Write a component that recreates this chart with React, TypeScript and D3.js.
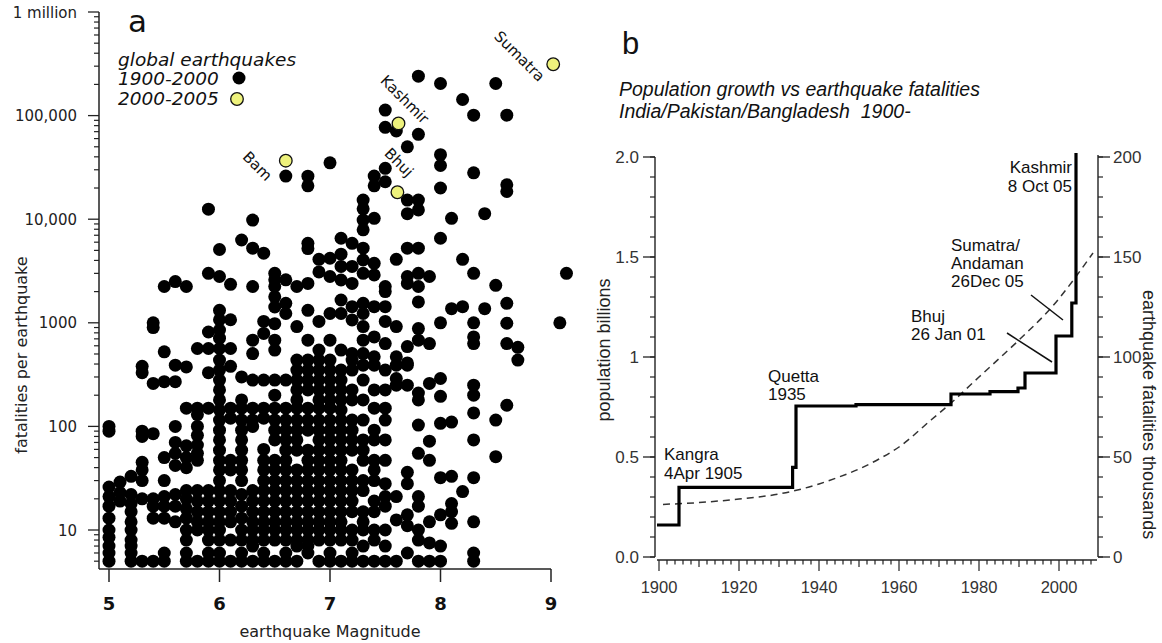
import React from 'react';
import * as d3 from 'd3';

// ---- panel a: global earthquakes, fatalities vs magnitude ----
// one column per magnitude: [magnitude, fatalities of each quake]
const quakeColumns: [number, number[]][] = [
  [5.0, [100, 90, 26, 21, 17, 13, 10, 8.5, 7, 6, 5]],
  [5.1, [29, 23, 19]],
  [5.2, [33, 22, 18, 15, 12, 10, 8, 7, 6, 5]],
  [5.3, [380, 330, 90, 80, 45, 38, 30, 20, 5]],
  [5.4, [1000, 900, 260, 85, 20, 17, 13, 5]],
  [5.5, [2240, 525, 270, 50, 30, 21, 17, 13, 6, 5]],
  [5.6, [2500, 390, 270, 100, 70, 55, 42, 22, 17, 12]],
  [5.7, [2240, 375, 150, 65, 50, 40, 24, 20, 16, 13, 10, 8, 6, 5]],
  [5.8, [565, 150, 130, 100, 82, 66, 55, 47, 24, 19, 15, 12, 10, 5]],
  [5.9, [12500, 3000, 815, 565, 330, 150, 24, 19, 15, 12, 10, 8, 6, 5]],
  [6.0, [5100, 2800, 1320, 1070, 850, 710, 565, 437, 350, 280, 225, 180, 144, 115, 92, 74, 59, 47, 38, 30, 24, 19, 15, 12, 10, 8, 6, 5]],
  [6.1, [2350, 1070, 565, 380, 150, 120, 47, 38, 24, 19, 15, 12, 8, 5]],
  [6.2, [6300, 300, 180, 150, 115, 92, 74, 59, 47, 38, 30, 22, 17, 13, 10, 8, 6, 5]],
  [6.3, [9800, 5250, 2240, 680, 505, 280, 150, 115, 100, 24, 19, 15, 12, 10, 8, 7, 5]],
  [6.4, [4700, 1030, 790, 280, 150, 120, 60, 47, 38, 30, 24, 19, 15, 12, 10, 8, 6, 5]],
  [6.5, [3000, 2600, 2240, 1780, 1420, 980, 680, 545, 280, 200, 150, 115, 92, 74, 47, 38, 30, 24, 19, 15, 12, 10, 8, 5]],
  [6.6, [26100, 2600, 1540, 1230, 280, 150, 115, 92, 74, 59, 47, 38, 30, 24, 19, 15, 12, 10, 8, 6, 5]],
  [6.7, [2240, 920, 437, 350, 280, 225, 180, 150, 115, 92, 74, 59, 38, 30, 24, 19, 15, 12, 10, 8, 7, 5]],
  [6.8, [26000, 21000, 5850, 5200, 2400, 1320, 680, 437, 350, 280, 225, 150, 115, 92, 59, 47, 38, 30, 24, 19, 15, 12, 10, 8, 7, 6]],
  [6.9, [4100, 3100, 1030, 545, 437, 350, 280, 225, 180, 150, 115, 92, 74, 59, 47, 38, 30, 24, 19, 15, 12, 10, 8, 5]],
  [7.0, [35000, 4200, 2800, 1230, 680, 437, 350, 280, 225, 180, 150, 115, 92, 74, 59, 47, 38, 30, 24, 19, 15, 12, 10, 8, 6, 5]],
  [7.1, [6550, 4600, 3500, 2590, 1660, 1230, 545, 350, 280, 225, 180, 144, 115, 92, 74, 59, 47, 38, 30, 24, 19, 15, 12, 10, 8, 5]],
  [7.2, [5850, 3500, 2400, 1430, 1065, 505, 437, 350, 225, 180, 115, 92, 74, 59, 38, 30, 24, 19, 15, 10, 8, 6, 5]],
  [7.3, [15300, 12600, 9800, 7900, 5250, 4040, 3000, 1540, 1230, 920, 680, 505, 390, 280, 180, 115, 74, 59, 47, 30, 24, 15, 12, 10, 7, 5]],
  [7.4, [26100, 21000, 10200, 3750, 2900, 1430, 730, 470, 390, 225, 150, 92, 74, 47, 38, 30, 19, 15, 10, 8, 5]],
  [7.5, [113000, 77000, 31000, 23000, 2240, 2000, 1430, 1030, 630, 350, 225, 150, 115, 74, 47, 28, 21, 17, 10, 7, 5]],
  [7.6, [71000, 4100, 920, 470, 390, 290, 250, 21, 12.5, 5]],
  [7.7, [50000, 15300, 11300, 5250, 2800, 2400, 590, 410, 390, 250, 36, 28, 14, 11, 6]],
  [7.8, [240000, 66000, 15300, 12300, 5250, 3000, 2240, 1590, 880, 680, 210, 180, 103, 55, 21, 17, 10, 8, 5]],
  [7.9, [2800, 630, 260, 72, 47, 12, 7.5, 5]],
  [8.0, [204000, 42000, 33000, 20000, 6550, 1000, 290, 195, 107, 32, 14, 7, 5]],
  [8.1, [10200, 1370, 110, 33, 18, 15, 11.6]],
  [8.2, [143000, 4100, 1430, 23.5]],
  [8.3, [101000, 28000, 3000, 1000, 730, 630, 250, 200, 135, 74, 32, 12, 6, 5]],
  [8.4, [11300, 1370]],
  [8.5, [204000, 2300, 115, 51]],
  [8.6, [101000, 21500, 18500, 1540, 990, 630, 160]],
  [8.7, [580, 437]],
  [9.08, [1000]],
  [9.14, [3000]],
];

const recentNames = ['Bam', 'Kashmir', 'Bhuj', 'Sumatra'];
const recentMagnitudes = [6.6, 7.62, 7.61, 9.02];
const recentFatalities = [36700, 84000, 18200, 313000];

const magnitudeTicks = [5, 6, 7, 8, 9];
const fatalityTicks = [10, 100, 1000, 10000, 100000, 1000000];
const fatalityTickLabels = ['10', '100', '1000', '10,000', '100,000', '1 million'];

// ---- panel b: India/Pakistan/Bangladesh ----
const stepYears = [1899.5, 1905, 1933.4, 1934.25, 1949.25, 1973, 1982.75, 1989.75, 1991.5, 1999.25, 2003.2, 2004.25];
const stepFatalities = [16, 34.8, 44.8, 75.5, 76.2, 81.5, 82.7, 84.5, 92, 110.5, 127, 202]; // cumulative, thousands
const popYears = [1901, 1910, 1920, 1930, 1940, 1945, 1950, 1955, 1960, 1968, 1973, 1980, 1990, 1998, 2008.5];
const popBillions = [0.263, 0.272, 0.29, 0.315, 0.365, 0.4, 0.44, 0.49, 0.55, 0.685, 0.77, 0.9, 1.085, 1.245, 1.52];

const yearTicks = [1900, 1920, 1940, 1960, 1980, 2000];
const popTicks = [0, 0.5, 1, 1.5, 2];
const popTickLabels = ['0.0', '0.5', '1', '1.5', '2.0'];
const fatalTicksB = [0, 50, 100, 150, 200];

const FA = '"DejaVu Sans", sans-serif';
const FB = '"Liberation Sans", Arial, sans-serif';
const AX = '#222';

export default function App() {
  // panel a
  const xA = d3.scaleLinear().domain([5, 9]).range([109, 551]);
  const yA = d3.scaleLog().domain([10, 1e6]).range([530, 12]);
  const axA = 99, bottomA = 569;

  const black: [number, number][] = [];
  quakeColumns.forEach(([m, fs]) => fs.forEach(f => black.push([m, f])));

  const minorA: number[] = [];
  for (let k = 0; k <= 5; k++) {
    for (let m = 2; m <= 9; m++) {
      const v = m * Math.pow(10, k);
      if (yA(v) <= bottomA) minorA.push(v);
    }
  }
  const labelOffsets = [[-44, -3], [-19, -42], [-14, -38], [-60, -27]];

  // panel b
  const xB = d3.scaleLinear().domain([1900, 2000]).range([659, 1059]);
  const yPop = d3.scaleLinear().domain([0, 2]).range([557, 157]);
  const yFat = d3.scaleLinear().domain([0, 200]).range([557, 157]);
  const axL = 655, axR = 1098, axBottom = 560;

  const stepLine = d3.line<number>()
    .x((_, i) => xB(stepYears[i]))
    .y(d => yFat(d))
    .curve(d3.curveStepAfter);
  const popLine = d3.line<number>()
    .x((_, i) => xB(popYears[i]))
    .y(d => yPop(d))
    .curve(d3.curveMonotoneX);

  const yearMinor = d3.range(1900, 2009, 2);
  const popMinor = d3.range(0, 21).map(i => i / 10);
  const fatMinor = d3.range(0, 201, 10);

  return (
    <svg width={1162} height={643} style={{ position: 'absolute', left: 0, top: 0, background: '#fff' }}>
      {/* ===== panel a ===== */}
      <g fontFamily={FA}>
        <text x={128} y={32} fontSize={31} fill="#111">a</text>
        <text x={118} y={66} fontSize={18.5} fontStyle="italic" fill="#111">global earthquakes</text>
        <text x={118} y={85} fontSize={18.5} fontStyle="italic" fill="#111">1900-2000</text>
        <text x={118} y={105} fontSize={18.5} fontStyle="italic" fill="#111">2000-2005</text>
        <circle cx={239} cy={78} r={6.5} fill="#000" />
        <circle cx={237} cy={99} r={6.3} fill="#eef27c" stroke="#111" strokeWidth={1.3} />

        {black.map(([m, f], i) => (
          <circle key={i} cx={xA(m)} cy={yA(f)} r={6.5} fill="#000" />
        ))}
        {recentNames.map((n, i) => (
          <g key={n}>
            <circle cx={xA(recentMagnitudes[i])} cy={yA(recentFatalities[i])} r={6.3}
              fill="#eef27c" stroke="#111" strokeWidth={1.3} />
            <text fontSize={15} fill="#111"
              transform={`translate(${xA(recentMagnitudes[i]) + labelOffsets[i][0]},${yA(recentFatalities[i]) + labelOffsets[i][1]}) rotate(45)`}>
              {n}
            </text>
          </g>
        ))}

        {/* y axis */}
        <line x1={axA} x2={axA} y1={yA(1e6)} y2={bottomA} stroke={AX} strokeWidth={1.5} />
        {minorA.map(v => (
          <line key={v} x1={axA - 5} x2={axA} y1={yA(v)} y2={yA(v)} stroke={AX} strokeWidth={1.2} />
        ))}
        {fatalityTicks.map((v, i) => (
          <g key={v}>
            <line x1={axA - 11} x2={axA} y1={yA(v)} y2={yA(v)} stroke={AX} strokeWidth={1.3} />
            <text x={77} y={yA(v) + 5.5} fontSize={15} textAnchor="end" fill="#222">{fatalityTickLabels[i]}</text>
          </g>
        ))}
        <text fontSize={16} textAnchor="middle" fill="#222"
          transform={`translate(27,355) rotate(-90)`}>fatalities per earthquake</text>

        {/* x axis */}
        <line x1={axA} x2={xA(9)} y1={bottomA} y2={bottomA} stroke={AX} strokeWidth={1.5} />
        {magnitudeTicks.map(m => (
          <g key={m}>
            <line x1={xA(m)} x2={xA(m)} y1={bottomA} y2={bottomA + 13} stroke={AX} strokeWidth={1.5} />
            <text x={xA(m)} y={bottomA + 41} fontSize={18} fontWeight="bold" textAnchor="middle" fill="#111">{m}</text>
          </g>
        ))}
        <text x={330} y={637} fontSize={16} textAnchor="middle" fill="#222">earthquake Magnitude</text>
      </g>

      {/* ===== panel b ===== */}
      <g fontFamily={FB}>
        <text x={622} y={54} fontSize={31} fill="#111">b</text>
        <text x={619} y={96} fontSize={19.5} fontStyle="italic" fill="#111">Population growth vs earthquake fatalities</text>
        <text x={619} y={118} fontSize={19.5} fontStyle="italic" fill="#111" style={{ whiteSpace: 'pre' }}>India/Pakistan/Bangladesh  1900-</text>

        {/* left axis */}
        <line x1={axL} x2={axL} y1={yPop(2)} y2={yPop(0)} stroke={AX} strokeWidth={1.4} />
        {popMinor.map(v => (
          <line key={v} x1={axL - 5} x2={axL} y1={yPop(v)} y2={yPop(v)} stroke={AX} strokeWidth={1.2} />
        ))}
        {popTicks.map((v, i) => (
          <g key={v}>
            <line x1={axL - 12} x2={axL} y1={yPop(v)} y2={yPop(v)} stroke={AX} strokeWidth={1.3} />
            <text x={639} y={yPop(v) + 6} fontSize={17} textAnchor="end" fill="#333">{popTickLabels[i]}</text>
          </g>
        ))}
        <text fontSize={18} textAnchor="middle" fill="#222"
          transform={`translate(610,350) rotate(-90)`}>population billions</text>

        {/* right axis */}
        <line x1={axR} x2={axR} y1={yFat(200) - 2} y2={yFat(0)} stroke={AX} strokeWidth={1.4} />
        {fatMinor.map(v => (
          <line key={v} x1={axR} x2={axR + 5} y1={yFat(v)} y2={yFat(v)} stroke={AX} strokeWidth={1.2} />
        ))}
        {fatalTicksB.map(v => (
          <g key={v}>
            <line x1={axR} x2={axR + 12} y1={yFat(v)} y2={yFat(v)} stroke={AX} strokeWidth={1.3} />
            <text x={1113} y={yFat(v) + 6} fontSize={17} fill="#333">{v}</text>
          </g>
        ))}
        <text fontSize={18} fill="#222"
          transform={`translate(1143,290) rotate(90)`}>earthquake fatalities thousands</text>

        {/* bottom axis */}
        <line x1={axL + 2} x2={axR - 1} y1={axBottom} y2={axBottom} stroke={AX} strokeWidth={1.4} />
        {yearMinor.map(y => (
          <line key={y} x1={xB(y)} x2={xB(y)} y1={axBottom}
            y2={axBottom + (y % 20 === 0 ? 11 : y % 10 === 0 ? 7 : 4.5)} stroke={AX} strokeWidth={1.2} />
        ))}
        {yearTicks.map(y => (
          <text key={y} x={xB(y)} y={593} fontSize={16.5} textAnchor="middle" fill="#333">{y}</text>
        ))}

        {/* series */}
        <path d={popLine(popBillions) || ''} fill="none" stroke="#333" strokeWidth={1.5} strokeDasharray="7,5" />
        <path d={stepLine(stepFatalities) || ''} fill="none" stroke="#000" strokeWidth={3.2} />

        {/* annotations */}
        <g fontSize={17} fill="#111">
          <text x={664} y={460}>Kangra</text>
          <text x={664} y={479}>4Apr 1905</text>
          <text x={768} y={382}>Quetta</text>
          <text x={768} y={400}>1935</text>
          <text x={1072} y={173} textAnchor="end">Kashmir</text>
          <text x={1072} y={192} textAnchor="end">8 Oct 05</text>
          <text x={951} y={251}>Sumatra/</text>
          <text x={951} y={269}>Andaman</text>
          <text x={951} y={287}>26Dec 05</text>
          <text x={911} y={322}>Bhuj</text>
          <text x={911} y={340}>26 Jan 01</text>
        </g>
        <line x1={1031} y1={295} x2={1063} y2={320} stroke="#111" strokeWidth={1.5} />
        <line x1={1007} y1={333} x2={1052} y2={362} stroke="#111" strokeWidth={1.5} />
      </g>
    </svg>
  );
}
